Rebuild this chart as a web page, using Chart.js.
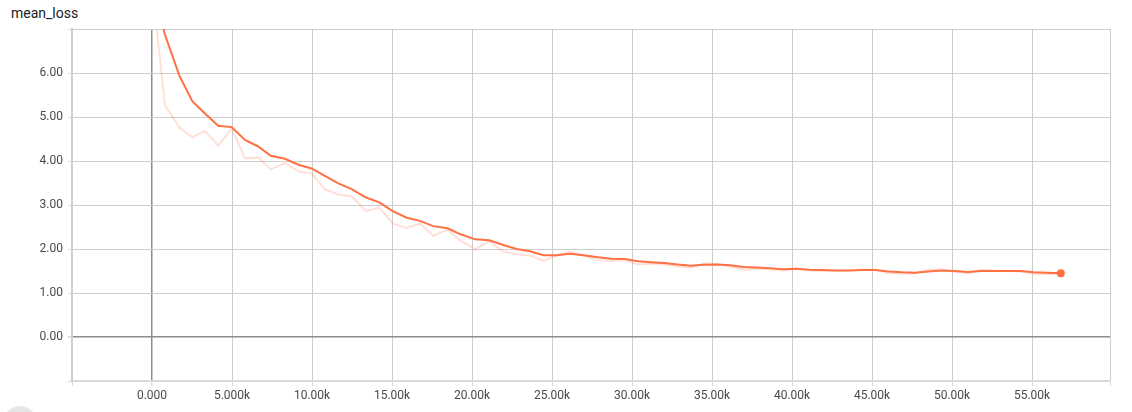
<!DOCTYPE html>
<html lang="en">
<head>
    <meta charset="UTF-8">
    <title>mean_loss</title>
    <script src="https://cdn.jsdelivr.net/npm/chart.js@4.4.1/dist/chart.umd.min.js"></script>
    <style>
        html, body { margin: 0; padding: 0; background: #fff; overflow: hidden; }
        #wrap { position: relative; width: 1132px; height: 412px; }
        #title { position: absolute; left: 11px; top: 4px; font: 14px Roboto, sans-serif; line-height: 18px; color: #212121; }
        #btn { position: absolute; left: 3px; top: 406px; width: 34px; height: 34px; border-radius: 50%; background: #e6e6e6; }
        canvas { position: absolute; left: 0; top: 0; }
    </style>
</head>
<body>
<div id="wrap">
    <div id="title">mean_loss</div>
    <canvas id="lossChart" width="1132" height="412"></canvas>
    <div id="btn"></div>
</div>

<script>
    // steps
    const steps = [0, 810, 1710, 2520, 3310, 4140, 4980, 5810, 6640, 7420,
        8310, 9190, 9980, 10800, 11640, 12480, 13380, 14210, 15040, 15920,
        16750, 17580, 18470, 19250, 20190, 21080, 21960, 22790, 23630, 24460,
        25290, 26130, 26960, 27890, 28720, 29540, 30370, 31190, 32020, 32840,
        33670, 34490, 35320, 36140, 36970, 37790, 38620, 39440, 40270, 41090,
        41920, 42740, 43570, 44390, 45220, 46040, 46870, 47690, 48520, 49340,
        50170, 50990, 51820, 52640, 53470, 54290, 55120, 55940, 56800];

    // faint line (raw values)
    const rawLoss = [8.0, 5.27, 4.76, 4.54, 4.68, 4.35, 4.74, 4.06, 4.08, 3.81,
        3.95, 3.76, 3.72, 3.36, 3.24, 3.20, 2.86, 2.94, 2.58, 2.48,
        2.58, 2.30, 2.44, 2.20, 1.99, 2.18, 1.94, 1.88, 1.85, 1.73,
        1.85, 1.94, 1.85, 1.75, 1.73, 1.75, 1.65, 1.67, 1.65, 1.60,
        1.58, 1.67, 1.66, 1.60, 1.53, 1.55, 1.54, 1.51, 1.55, 1.51,
        1.50, 1.50, 1.51, 1.53, 1.52, 1.45, 1.44, 1.45, 1.53, 1.54,
        1.48, 1.45, 1.53, 1.51, 1.50, 1.49, 1.43, 1.43, 1.44];

    // solid line (smoothed values)
    const smoothLoss = [8.0, 6.87, 5.94, 5.36, 5.08, 4.80, 4.77, 4.48, 4.33, 4.12,
        4.05, 3.91, 3.83, 3.66, 3.49, 3.36, 3.17, 3.06, 2.86, 2.71,
        2.64, 2.52, 2.47, 2.34, 2.22, 2.20, 2.09, 2.00, 1.95, 1.86,
        1.86, 1.89, 1.86, 1.81, 1.78, 1.77, 1.72, 1.70, 1.68, 1.65,
        1.62, 1.64, 1.65, 1.63, 1.59, 1.58, 1.56, 1.54, 1.55, 1.53,
        1.52, 1.51, 1.51, 1.52, 1.52, 1.49, 1.47, 1.46, 1.49, 1.51,
        1.50, 1.48, 1.50, 1.50, 1.50, 1.50, 1.47, 1.46, 1.45];

    const xTicks = [0, 5000, 10000, 15000, 20000, 25000, 30000, 35000, 40000, 45000, 50000, 55000];
    const xTickLabels = ['0.000', '5.000k', '10.00k', '15.00k', '20.00k', '25.00k', '30.00k', '35.00k', '40.00k', '45.00k', '50.00k', '55.00k'];
    const yTicks = [0, 1, 2, 3, 4, 5, 6];
    const yTickLabels = ['0.00', '1.00', '2.00', '3.00', '4.00', '5.00', '6.00'];

    const xMin = -5000, xMax = 59875;
    const yMin = -1, yMax = 7;

    const orange = '#ff7043';
    const gridCol = '#cdcdcd';
    const zeroCol = '#8c8c8c';

    function toPoints(vals) {
        return steps.map((s, i) => ({ x: s, y: vals[i] }));
    }

    const lastIdx = steps.length - 1;

    new Chart(document.getElementById('lossChart'), {
        type: 'line',
        data: {
            datasets: [{
                label: 'smoothed',
                data: toPoints(smoothLoss),
                borderColor: orange,
                backgroundColor: orange,
                borderWidth: 2,
                tension: 0,
                pointRadius: ctx => ctx.dataIndex === lastIdx ? 4 : 0,
                pointBorderWidth: 0,
                order: 0
            }, {
                label: 'raw',
                data: toPoints(rawLoss),
                borderColor: 'rgba(255, 112, 67, 0.22)',
                borderWidth: 2,
                tension: 0,
                pointRadius: 0,
                order: 1
            }]
        },
        options: {
            responsive: false,
            animation: false,
            layout: { padding: { left: 0, right: 22, top: 29, bottom: 0 } },
            plugins: { legend: { display: false }, tooltip: { enabled: false } },
            scales: {
                x: {
                    type: 'linear',
                    min: xMin,
                    max: xMax,
                    afterBuildTicks: scale => {
                        scale.ticks = [xMin].concat(xTicks, [xMax]).map(v => ({ value: v }));
                    },
                    afterFit: scale => { scale.height = 31; },
                    ticks: {
                        autoSkip: false,
                        maxRotation: 0,
                        padding: 3,
                        color: '#4a4a4a',
                        font: { family: 'Roboto', size: 12 },
                        callback: v => {
                            const i = xTicks.indexOf(v);
                            return i >= 0 ? xTickLabels[i] : '';
                        }
                    },
                    grid: {
                        color: ctx => ctx.tick && ctx.tick.value === 0 ? zeroCol : gridCol,
                        lineWidth: ctx => ctx.tick && ctx.tick.value === 0 ? 1.5 : 1,
                        tickLength: 5,
                        tickColor: '#d9d9d9'
                    },
                    border: { color: '#d9d9d9', width: 2 }
                },
                y: {
                    type: 'linear',
                    min: yMin,
                    max: yMax,
                    afterBuildTicks: scale => {
                        scale.ticks = [yMin].concat(yTicks, [yMax]).map(v => ({ value: v }));
                    },
                    afterFit: scale => { scale.width = 72; },
                    ticks: {
                        autoSkip: false,
                        padding: 5,
                        color: '#4a4a4a',
                        font: { family: 'Roboto', size: 12 },
                        callback: v => {
                            const i = yTicks.indexOf(v);
                            return i >= 0 ? yTickLabels[i] : '';
                        }
                    },
                    grid: {
                        color: ctx => ctx.tick && ctx.tick.value === 0 ? zeroCol : gridCol,
                        lineWidth: ctx => ctx.tick && ctx.tick.value === 0 ? 1.5 : 1,
                        tickLength: 4,
                        tickColor: '#d9d9d9'
                    },
                    border: { color: '#cfcfcf', width: 2 }
                }
            }
        }
    });
</script>
</body>
</html>
